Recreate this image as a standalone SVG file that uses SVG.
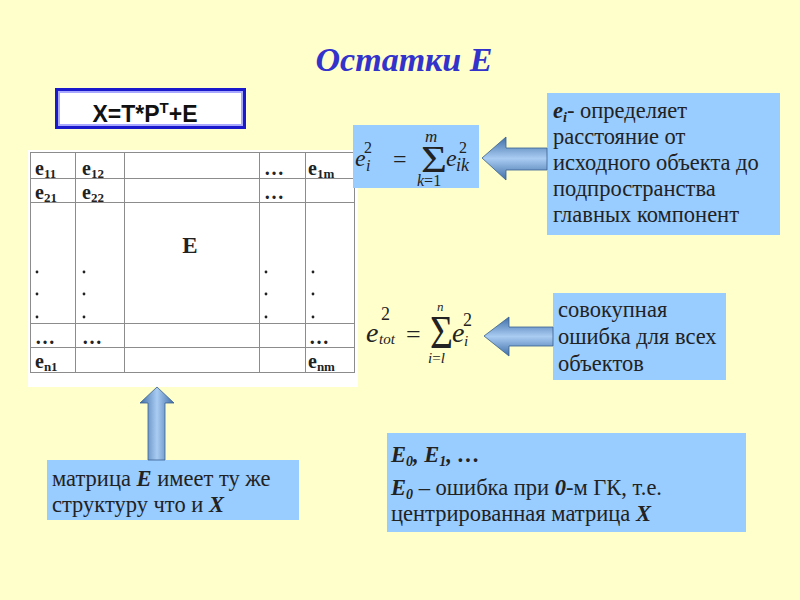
<svg xmlns="http://www.w3.org/2000/svg" width="800" height="600" viewBox="0 0 800 600">
<defs>
<style>
.ru{font-family:"Liberation Serif","Times New Roman",serif;font-size:22.5px;fill:#222}
.bi{font-weight:bold;font-style:italic}
.cell{font-family:"Liberation Serif","Times New Roman",serif;font-size:20px;font-weight:bold;fill:#222}
.sub{font-size:13px}
.math{font-family:"Liberation Serif","Times New Roman",serif;font-style:italic;fill:#222}
.up{font-style:normal}
.box{fill:#99CCFF}
.grid{stroke:#8c8c8c;stroke-width:1;fill:none}
</style>
<linearGradient id="gv" x1="0" y1="0" x2="1" y2="0">
<stop offset="0" stop-color="#3f6ea8"/>
<stop offset="0.5" stop-color="#a9ccf2"/>
<stop offset="1" stop-color="#3f6ea8"/>
</linearGradient>
<linearGradient id="gh" x1="0" y1="0" x2="0" y2="1">
<stop offset="0" stop-color="#3f6ea8"/>
<stop offset="0.5" stop-color="#a9ccf2"/>
<stop offset="1" stop-color="#3f6ea8"/>
</linearGradient>
</defs>
<rect width="800" height="600" fill="#FFFFCC"/>

<text x="404" y="71" text-anchor="middle" font-family="Liberation Serif, Times New Roman, serif" font-size="34" font-weight="bold" font-style="italic" fill="#3333CC">Остатки E</text>

<g id="formulaX">
<rect x="55" y="88" width="191" height="41" fill="#1a1acc"/>
<rect x="58" y="91" width="185" height="35" fill="#a8a8ff"/>
<rect x="60" y="93" width="181" height="31" fill="#ffffff"/>
<text x="145" y="122" text-anchor="middle" font-family="Liberation Sans, Arial, sans-serif" font-size="23" font-weight="bold" fill="#111">X=T*P<tspan dy="-9" font-size="15">T</tspan><tspan dy="9">+E</tspan></text>
</g>

<g id="matrix">
<rect x="28" y="150" width="330" height="237" fill="#ffffff"/>
<rect class="grid" x="30.5" y="152.5" width="324" height="220"/>
<path class="grid" d="M75.5 152.5V372.5M124.5 152.5V372.5M259.5 152.5V372.5M305.5 152.5V372.5M30.5 178.5H354.5M30.5 202.5H354.5M30.5 323.5H354.5M30.5 347.5H354.5"/>
<g class="cell">
<text x="35" y="175">e<tspan class="sub" dy="3">11</tspan></text>
<text x="82" y="175">e<tspan class="sub" dy="3">12</tspan></text>
<text x="264" y="175">…</text>
<text x="308" y="175">e<tspan class="sub" dy="3">1m</tspan></text>
<text x="35" y="199">e<tspan class="sub" dy="3">21</tspan></text>
<text x="82" y="199">e<tspan class="sub" dy="3">22</tspan></text>
<text x="264" y="199">…</text>
<text x="190" y="253" text-anchor="middle" font-size="23">E</text>
<text x="35" y="344">…</text>
<text x="82" y="344">…</text>
<text x="309" y="344">…</text>
<text x="35" y="368">e<tspan class="sub" dy="3">n1</tspan></text>
<text x="308" y="368">e<tspan class="sub" dy="3">nm</tspan></text>
</g>
<g fill="#222">
<circle cx="37" cy="272" r="1.4"/><circle cx="37" cy="294" r="1.4"/><circle cx="37" cy="317" r="1.4"/>
<circle cx="84" cy="272" r="1.4"/><circle cx="84" cy="294" r="1.4"/><circle cx="84" cy="317" r="1.4"/>
<circle cx="266" cy="272" r="1.4"/><circle cx="266" cy="294" r="1.4"/><circle cx="266" cy="317" r="1.4"/>
<circle cx="313" cy="272" r="1.4"/><circle cx="313" cy="294" r="1.4"/><circle cx="313" cy="317" r="1.4"/>
</g>
</g>

<g id="formula1">
<rect class="box" x="353" y="125" width="126" height="63"/>
<g class="math">
<text x="355" y="166" font-size="24">e</text>
<text x="366" y="171" font-size="16">i</text>
<text x="364" y="153" font-size="16" class="up">2</text>
<text x="393" y="167" font-size="24" class="up">=</text>
<text x="421" y="172" font-size="38" class="up" textLength="26" lengthAdjust="spacingAndGlyphs">Σ</text>
<text x="425" y="142" font-size="17">m</text>
<text x="417" y="186" font-size="16">k<tspan class="up">=1</tspan></text>
<text x="446" y="166" font-size="24">e</text>
<text x="459" y="153" font-size="16" class="up">2</text>
<text x="456" y="171" font-size="18">ik</text>
</g>
</g>

<g id="formula2">
<g class="math">
<text x="366" y="342" font-size="28">e</text>
<text x="379" y="344" font-size="15">tot</text>
<text x="381" y="320" font-size="18" class="up">2</text>
<text x="406" y="343" font-size="26" class="up">=</text>
<text x="430" y="348" font-size="46" class="up" textLength="23" lengthAdjust="spacingAndGlyphs">Σ</text>
<text x="437" y="311" font-size="13">n</text>
<text x="428" y="363" font-size="15">i<tspan class="up">=</tspan>l</text>
<text x="452" y="342" font-size="28">e</text>
<text x="464" y="346" font-size="15">i</text>
<text x="463" y="326" font-size="18" class="up">2</text>
</g>
</g>

<g id="box1">
<rect class="box" x="547" y="93" width="233" height="142"/>
<text class="ru" x="553" y="118"><tspan class="bi">e</tspan><tspan class="bi" font-size="14" dy="4">i</tspan><tspan dy="-4">- определяет</tspan></text>
<text class="ru" x="553" y="144">расстояние от</text>
<text class="ru" x="553" y="170">исходного объекта до</text>
<text class="ru" x="553" y="196">подпространства</text>
<text class="ru" x="553" y="222">главных компонент</text>
</g>

<g id="box2">
<rect class="box" x="553" y="293" width="173" height="87"/>
<text class="ru" x="558" y="317">совокупная</text>
<text class="ru" x="558" y="344">ошибка для всех</text>
<text class="ru" x="558" y="371">объектов</text>
</g>

<g id="box3">
<rect class="box" x="47" y="460" width="252" height="60"/>
<text class="ru" x="52" y="486">матрица <tspan class="bi">E</tspan> имеет ту же</text>
<text class="ru" x="52" y="512">структуру что и <tspan class="bi">X</tspan></text>
</g>

<g id="box4">
<rect class="box" x="387" y="433" width="359" height="99"/>
<text class="ru" x="391" y="462"><tspan class="bi">E</tspan><tspan class="bi" font-size="14" dy="4">0</tspan><tspan class="bi" dy="-4">, E</tspan><tspan class="bi" font-size="14" dy="4">1</tspan><tspan class="bi" dy="-4">, …</tspan></text>
<text class="ru" x="391" y="495"><tspan class="bi">E</tspan><tspan class="bi" font-size="14" dy="4">0</tspan><tspan dy="-4"> – ошибка при </tspan><tspan class="bi">0</tspan>-м ГК, т.е.</text>
<text class="ru" x="391" y="521">центрированная матрица <tspan class="bi">X</tspan></text>
</g>

<g id="connectors" stroke="#3a5f8f" stroke-width="0.8">
<path d="M482 158 L506 137 L506 148 L547 148 L547 170 L506 170 L506 180 Z" fill="url(#gh)"/>
<path d="M484 336 L509 317 L509 327 L553 327 L553 346 L509 346 L509 356 Z" fill="url(#gh)"/>
<path d="M157 387 L174 403 L165 403 L165 460 L148 460 L148 403 L140 403 Z" fill="url(#gv)"/>
</g>
</svg>
